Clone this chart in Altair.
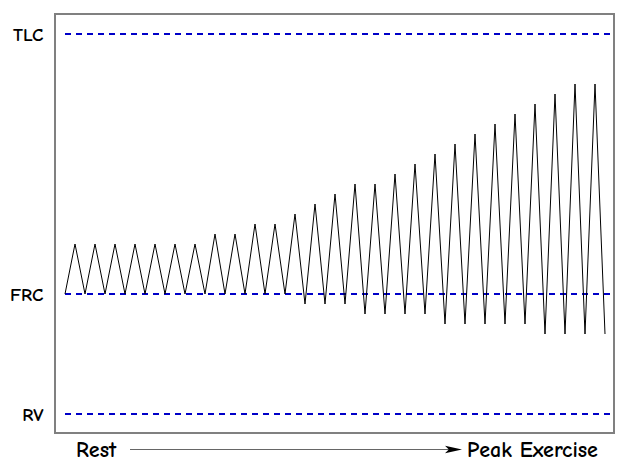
import altair as alt
import pandas as pd

# Breathing pattern: alternating end-expiratory (trough) and end-inspiratory (peak) volumes
# volume units relative to FRC (FRC = 0)
trough_vol = [0, 0, 0, 0, 0, 0, 0, 0, 0, 0, 0, 0, -1, -1, -1, -2, -2, -2, -2,
              -3, -3, -3, -3, -3, -4, -4, -4, -4]
peak_vol = [5, 5, 5, 5, 5, 5, 5, 6, 6, 7, 7, 8, 9, 10, 11, 11, 12, 13, 14, 15,
            16, 17, 18, 19, 20, 21, 21]

ref_names = ["TLC", "FRC", "RV"]
ref_vol = [26, 0, -12]

bottom_labels = ["Rest", "Peak Exercise"]

FONT = "Comic Sans MS, Comic Neue, Lato, sans-serif"

vol = []
for i in range(len(peak_vol)):
    vol.append(trough_vol[i])
    vol.append(peak_vol[i])
vol.append(trough_vol[-1])
breath = pd.DataFrame({"t": list(range(len(vol))), "v": vol})

refs = pd.DataFrame({"name": ref_names, "v": ref_vol, "x0": [0] * 3, "x1": [54.5] * 3})

xs = alt.Scale(domain=[-1, 54.9], nice=False, zero=False)
ys = alt.Scale(domain=[-13.9, 28], nice=False, zero=False)

label_expr = "datum.value == 26 ? 'TLC' : datum.value == 0 ? 'FRC' : 'RV'"

dashed = alt.Chart(refs).mark_rule(color="#0000c8", strokeWidth=2, strokeDash=[6, 5]).encode(
    x=alt.X("x0:Q", scale=xs, axis=None),
    x2="x1:Q",
    y=alt.Y("v:Q", scale=ys,
            axis=alt.Axis(values=ref_vol, labelExpr=label_expr, ticks=False, domain=False,
                          grid=False, title=None, labelFont=FONT, labelFontSize=19,
                          labelFontWeight="bold",
                          labelColor="black", labelPadding=12)),
)

line = alt.Chart(breath).mark_line(color="black", strokeWidth=1).encode(
    x=alt.X("t:Q", scale=xs, axis=None),
    y=alt.Y("v:Q", scale=ys),
)

ann = pd.DataFrame({"label": bottom_labels, "x": [1.1, 40.2], "y": [-15.6, -15.6]})
texts = alt.Chart(ann).mark_text(align="left", baseline="middle", font=FONT, fontSize=22,
                                 fontWeight="bold", color="black", clip=False).encode(
    x=alt.X("x:Q", scale=xs, axis=None),
    y=alt.Y("y:Q", scale=ys),
    text="label:N",
)

arrow_df = pd.DataFrame({"x0": [6.5], "x1": [38.6], "y": [-15.55]})
arrow_line = alt.Chart(arrow_df).mark_rule(color="#666666", strokeWidth=1.2, clip=False).encode(
    x=alt.X("x0:Q", scale=xs, axis=None),
    x2="x1:Q",
    y=alt.Y("y:Q", scale=ys),
)
head_df = pd.DataFrame({"x": [38.85], "y": [-15.55]})
arrow_head = alt.Chart(head_df).mark_point(
    shape="M-1,-0.45L1,0L-1,0.45L-0.55,0Z", size=289, filled=True, color="black",
    opacity=1, clip=False).encode(
    x=alt.X("x:Q", scale=xs, axis=None),
    y=alt.Y("y:Q", scale=ys),
)

chart = alt.layer(dashed, line, texts, arrow_line, arrow_head).properties(
    width=559, height=419,
    autosize=alt.AutoSizeParams(type="none"),
    padding={"left": 47, "top": 6, "right": 6, "bottom": 30},
).configure_view(stroke="#808080", strokeWidth=2)

chart.save("out.html", embed_options={"renderer": "svg", "actions": False})
